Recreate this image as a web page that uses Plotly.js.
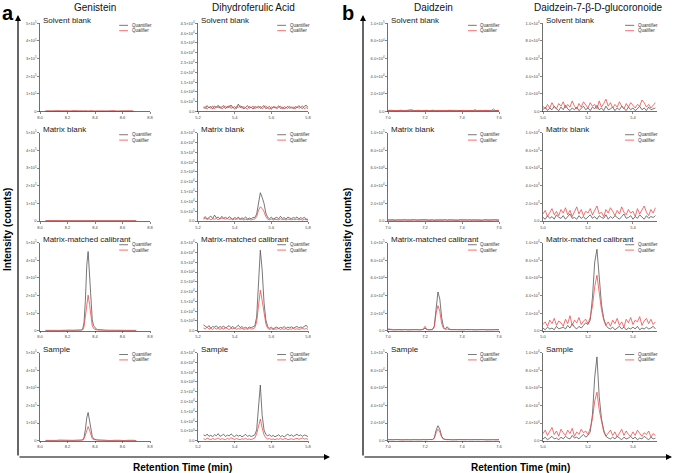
<!DOCTYPE html>
<html>
<head>
<meta charset="utf-8">
<script src="https://cdn.plot.ly/plotly-3.0.1.min.js"></script>
<style>
  body { margin: 0; background: #fff; }
  #myChart { width: 676px; height: 473px; }
</style>
</head>
<body>
<div id="myChart"></div>
<script>
// column titles, row labels, legend names
var compounds = ["Genistein", "Dihydroferulic Acid", "Daidzein", "Daidzein-7-β-D-glucoronoide"];
var sampleTypes = ["Solvent blank", "Matrix blank", "Matrix-matched calibrant", "Sample"];
var seriesNames = ["Quantifier", "Qualifier"];

// ---- Genistein (intensity in 1e5 counts) ----
var genTime = [8.04, 8.06, 8.08, 8.10, 8.12, 8.14, 8.16, 8.18, 8.20, 8.22, 8.24, 8.26, 8.28,
  8.29, 8.30, 8.31, 8.32, 8.33, 8.34, 8.35, 8.36, 8.37, 8.38, 8.39, 8.40, 8.41, 8.42, 8.43, 8.44,
  8.46, 8.48, 8.50, 8.52, 8.54, 8.56, 8.58, 8.60, 8.62, 8.64, 8.66, 8.68, 8.70];
var genSolventQuant = [0.02, 0.01, 0.02, 0.01, 0.02, 0.02, 0.01, 0.02, 0.01, 0.02, 0.01, 0.02, 0.01,
  0.02, 0.01, 0.02, 0.01, 0.02, 0.02, 0.01, 0.02, 0.01, 0.02, 0.01, 0.01, 0.02, 0.01, 0.02,
  0.01, 0.02, 0.01, 0.02, 0.01, 0.02, 0.01, 0.02, 0.01, 0.02, 0.01, 0.02, 0.01];
var genSolventQual = [0.03, 0.02, 0.04, 0.03, 0.05, 0.02, 0.03, 0.04, 0.02, 0.03, 0.05, 0.03, 0.02,
  0.03, 0.04, 0.02, 0.03, 0.05, 0.03, 0.02, 0.04, 0.03, 0.02, 0.04, 0.03, 0.02, 0.03, 0.04,
  0.05, 0.03, 0.02, 0.04, 0.03, 0.05, 0.02, 0.03, 0.04, 0.02, 0.03, 0.04, 0.02];
var genMatrixQuant = [0.01, 0.01, 0.00, 0.01, 0.01, 0.01, 0.00, 0.01, 0.01, 0.01, 0.00, 0.01, 0.01,
  0.01, 0.00, 0.01, 0.01, 0.01, 0.00, 0.01, 0.01, 0.00, 0.01, 0.01, 0.01, 0.00, 0.01, 0.01,
  0.01, 0.00, 0.01, 0.01, 0.00, 0.01, 0.01, 0.01, 0.00, 0.01, 0.01, 0.00, 0.01, 0.01];
var genMatrixQual = [0.01, 0.02, 0.01, 0.01, 0.02, 0.01, 0.01, 0.02, 0.01, 0.01, 0.02, 0.01, 0.01,
  0.02, 0.01, 0.01, 0.02, 0.01, 0.01, 0.02, 0.01, 0.02, 0.01, 0.01, 0.02, 0.01, 0.01, 0.02,
  0.01, 0.01, 0.02, 0.01, 0.02, 0.01, 0.01, 0.02, 0.01, 0.01, 0.02, 0.01, 0.01, 0.01];
var genCalQuant = [0.01, 0.02, 0.01, 0.02, 0.02, 0.01, 0.02, 0.01, 0.02, 0.02, 0.01, 0.02, 0.02,
  0.02, 0.03, 0.08, 0.45, 1.70, 3.70, 4.50, 3.30, 1.65, 0.62, 0.28, 0.15, 0.09, 0.06, 0.05, 0.04,
  0.03, 0.03, 0.02, 0.02, 0.02, 0.01, 0.02, 0.01, 0.02, 0.01, 0.02, 0.01, 0.01];
var genCalQual = [0.02, 0.01, 0.02, 0.03, 0.01, 0.02, 0.02, 0.01, 0.03, 0.02, 0.01, 0.02, 0.02,
  0.02, 0.02, 0.04, 0.22, 0.80, 1.65, 2.02, 1.50, 0.75, 0.28, 0.12, 0.07, 0.04, 0.03, 0.02, 0.02,
  0.02, 0.01, 0.02, 0.02, 0.01, 0.02, 0.01, 0.02, 0.02, 0.01, 0.02, 0.01, 0.02];
var genSampleQuant = [0.01, 0.02, 0.01, 0.02, 0.01, 0.02, 0.02, 0.01, 0.02, 0.01, 0.02, 0.02, 0.01,
  0.02, 0.03, 0.05, 0.18, 0.62, 1.30, 1.60, 1.20, 0.60, 0.24, 0.11, 0.07, 0.05, 0.04, 0.03, 0.03,
  0.02, 0.02, 0.01, 0.02, 0.02, 0.01, 0.02, 0.01, 0.02, 0.02, 0.01, 0.02, 0.01];
var genSampleQual = [0.02, 0.01, 0.02, 0.02, 0.01, 0.03, 0.02, 0.01, 0.02, 0.02, 0.01, 0.02, 0.02,
  0.02, 0.02, 0.03, 0.10, 0.32, 0.66, 0.80, 0.60, 0.30, 0.12, 0.06, 0.04, 0.03, 0.02, 0.02, 0.02,
  0.01, 0.02, 0.02, 0.01, 0.02, 0.01, 0.02, 0.02, 0.01, 0.02, 0.01, 0.02, 0.01];
var genXTicks = [8.0, 8.2, 8.4, 8.6, 8.8];
var genXLabels = ["8.0", "8.2", "8.4", "8.6", "8.8"];
var genYTicks = [0, 1, 2, 3, 4, 5];
var genYLabels = ["0", "1×10<sup>5</sup>", "2×10<sup>5</sup>", "3×10<sup>5</sup>", "4×10<sup>5</sup>", "5×10<sup>5</sup>"];

// ---- Dihydroferulic Acid (intensity in 1e4 counts), 5.23 .. 5.80 min ----
var dhfTime = [5.23, 5.24, 5.25, 5.26, 5.27, 5.28, 5.29, 5.30, 5.31, 5.32,
  5.33, 5.34, 5.35, 5.36, 5.37, 5.38, 5.39, 5.40, 5.41, 5.42,
  5.43, 5.44, 5.45, 5.46, 5.47, 5.48, 5.49, 5.50, 5.51, 5.52,
  5.53, 5.54, 5.55, 5.56, 5.57, 5.58, 5.59, 5.60, 5.61, 5.62,
  5.63, 5.64, 5.65, 5.66, 5.67, 5.68, 5.69, 5.70, 5.71, 5.72,
  5.73, 5.74, 5.75, 5.76, 5.77, 5.78, 5.79, 5.80];
var dhfSolventQuant = [0.22, 0.15, 0.30, 0.18, 0.26, 0.12, 0.28, 0.20, 0.32, 0.16,
  0.24, 0.30, 0.14, 0.26, 0.20, 0.33, 0.18, 0.25, 0.15, 0.38,
  0.20, 0.27, 0.13, 0.24, 0.30, 0.17, 0.22, 0.12, 0.26, 0.19,
  0.28, 0.16, 0.23, 0.30, 0.14, 0.21, 0.26, 0.11, 0.25, 0.18,
  0.20, 0.29, 0.15, 0.23, 0.13, 0.19, 0.27, 0.16, 0.22, 0.14,
  0.25, 0.18, 0.30, 0.21, 0.15, 0.27, 0.32, 0.20];
var dhfSolventQual = [0.18, 0.26, 0.12, 0.24, 0.16, 0.29, 0.14, 0.25, 0.19, 0.27,
  0.13, 0.22, 0.28, 0.17, 0.31, 0.15, 0.24, 0.11, 0.27, 0.20,
  0.30, 0.16, 0.25, 0.18, 0.12, 0.26, 0.20, 0.28, 0.14, 0.23,
  0.17, 0.27, 0.13, 0.21, 0.29, 0.16, 0.12, 0.24, 0.19, 0.26,
  0.14, 0.22, 0.28, 0.12, 0.25, 0.20, 0.15, 0.27, 0.18, 0.24,
  0.12, 0.26, 0.16, 0.22, 0.29, 0.14, 0.20, 0.15];
var dhfMatrixQuant = [0.15, 0.22, 0.10, 0.18, 0.25, 0.12, 0.30, 0.16, 0.20, 0.11,
  0.24, 0.14, 0.19, 0.12, 0.22, 0.15, 0.09, 0.18, 0.13, 0.20,
  0.10, 0.16, 0.12, 0.21, 0.09, 0.15, 0.11, 0.18, 0.18, 0.35,
  0.95, 1.44, 1.20, 0.90, 0.40, 0.18, 0.12, 0.20, 0.10, 0.16,
  0.19, 0.11, 0.24, 0.13, 0.17, 0.10, 0.20, 0.15, 0.12, 0.18,
  0.14, 0.21, 0.11, 0.17, 0.13, 0.19, 0.10, 0.08];
var dhfMatrixQual = [0.10, 0.14, 0.08, 0.12, 0.06, 0.11, 0.09, 0.13, 0.07, 0.10,
  0.15, 0.12, 0.09, 0.13, 0.08, 0.11, 0.06, 0.10, 0.08, 0.12,
  0.07, 0.10, 0.05, 0.09, 0.06, 0.08, 0.05, 0.09, 0.10, 0.22,
  0.55, 0.72, 0.64, 0.48, 0.22, 0.09, 0.06, 0.10, 0.05, 0.09,
  0.09, 0.06, 0.11, 0.07, 0.08, 0.05, 0.10, 0.07, 0.06, 0.09,
  0.07, 0.10, 0.06, 0.08, 0.05, 0.09, 0.06, 0.04];
var dhfCalQuant = [0.30, 0.24, 0.16, 0.26, 0.12, 0.22, 0.18, 0.25, 0.14, 0.21,
  0.17, 0.24, 0.13, 0.20, 0.26, 0.15, 0.22, 0.11, 0.19, 0.28,
  0.16, 0.21, 0.13, 0.18, 0.12, 0.19, 0.15, 0.22, 0.25, 0.70,
  2.40, 4.12, 3.10, 1.45, 0.55, 0.22, 0.12, 0.18, 0.10, 0.16,
  0.19, 0.11, 0.17, 0.14, 0.21, 0.12, 0.18, 0.15, 0.20, 0.13,
  0.17, 0.22, 0.14, 0.19, 0.16, 0.23, 0.28, 0.15];
var dhfCalQual = [0.14, 0.10, 0.18, 0.08, 0.12, 0.06, 0.15, 0.09, 0.11, 0.07,
  0.13, 0.08, 0.16, 0.10, 0.06, 0.12, 0.09, 0.14, 0.07, 0.11,
  0.08, 0.13, 0.06, 0.10, 0.07, 0.12, 0.08, 0.10, 0.15, 0.45,
  1.25, 2.07, 1.55, 0.85, 0.35, 0.12, 0.07, 0.10, 0.06, 0.09,
  0.08, 0.12, 0.06, 0.10, 0.07, 0.11, 0.05, 0.09, 0.08, 0.12,
  0.07, 0.10, 0.06, 0.09, 0.12, 0.08, 0.11, 0.07];
var dhfSampleQuant = [0.30, 0.24, 0.34, 0.22, 0.28, 0.20, 0.31, 0.25, 0.36, 0.22,
  0.27, 0.33, 0.21, 0.29, 0.24, 0.35, 0.26, 0.20, 0.30, 0.23,
  0.28, 0.19, 0.26, 0.32, 0.22, 0.27, 0.21, 0.25, 0.30, 0.55,
  1.80, 2.84, 1.30, 0.55, 0.32, 0.25, 0.30, 0.22, 0.27, 0.20,
  0.25, 0.30, 0.21, 0.26, 0.19, 0.28, 0.34, 0.24, 0.30, 0.22,
  0.27, 0.33, 0.25, 0.30, 0.22, 0.29, 0.26, 0.21];
var dhfSampleQual = [0.10, 0.06, 0.13, 0.08, 0.05, 0.11, 0.07, 0.09, 0.14, 0.06,
  0.10, 0.08, 0.05, 0.12, 0.07, 0.15, 0.09, 0.06, 0.11, 0.08,
  0.05, 0.10, 0.07, 0.12, 0.06, 0.09, 0.05, 0.10, 0.14, 0.35,
  0.80, 1.10, 0.65, 0.30, 0.15, 0.08, 0.11, 0.06, 0.09, 0.05,
  0.10, 0.07, 0.12, 0.06, 0.09, 0.11, 0.05, 0.08, 0.10, 0.06,
  0.09, 0.12, 0.07, 0.10, 0.14, 0.08, 0.11, 0.06];
var dhfXTicks = [5.2, 5.4, 5.6, 5.8];
var dhfXLabels = ["5.2", "5.4", "5.6", "5.8"];
var dhfYTicks = [0, 0.5, 1, 1.5, 2, 2.5, 3, 3.5, 4, 4.5];
var dhfYLabels = ["0.0", "5.0×10<sup>3</sup>", "1.0×10<sup>4</sup>", "1.5×10<sup>4</sup>", "2.0×10<sup>4</sup>",
  "2.5×10<sup>4</sup>", "3.0×10<sup>4</sup>", "3.5×10<sup>4</sup>", "4.0×10<sup>4</sup>", "4.5×10<sup>4</sup>"];

// ---- Daidzein (intensity in 1e5 counts), 7.00 .. 7.60 min ----
var daiTime = [7.00, 7.01, 7.02, 7.03, 7.04, 7.05, 7.06, 7.07, 7.08, 7.09,
  7.10, 7.11, 7.12, 7.13, 7.14, 7.15, 7.16, 7.17, 7.18, 7.19,
  7.20, 7.21, 7.22, 7.23, 7.24, 7.25, 7.26, 7.27, 7.28, 7.29,
  7.30, 7.31, 7.32, 7.33, 7.34, 7.35, 7.36, 7.37, 7.38, 7.39,
  7.40, 7.41, 7.42, 7.43, 7.44, 7.45, 7.46, 7.47, 7.48, 7.49,
  7.50, 7.51, 7.52, 7.53, 7.54, 7.55, 7.56, 7.57, 7.58, 7.59, 7.60];
var daiSolventQuant = [0.010, 0.014, 0.008, 0.012, 0.006, 0.011, 0.009, 0.013, 0.007, 0.010,
  0.012, 0.008, 0.015, 0.009, 0.011, 0.007, 0.013, 0.010, 0.008, 0.012,
  0.009, 0.014, 0.007, 0.011, 0.010, 0.013, 0.008, 0.012, 0.006, 0.010,
  0.013, 0.009, 0.011, 0.007, 0.012, 0.010, 0.014, 0.008, 0.011, 0.009,
  0.012, 0.007, 0.010, 0.013, 0.008, 0.011, 0.009, 0.012, 0.010, 0.008,
  0.013, 0.009, 0.011, 0.007, 0.012, 0.010, 0.008, 0.011, 0.009, 0.012, 0.010];
var daiSolventQual = [0.008, 0.012, 0.015, 0.009, 0.011, 0.007, 0.013, 0.010, 0.014, 0.008,
  0.011, 0.009, 0.013, 0.020, 0.010, 0.012, 0.008, 0.014, 0.009, 0.011,
  0.013, 0.007, 0.012, 0.010, 0.015, 0.008, 0.011, 0.009, 0.013, 0.010,
  0.008, 0.012, 0.010, 0.014, 0.009, 0.011, 0.007, 0.013, 0.010, 0.012,
  0.009, 0.014, 0.008, 0.011, 0.010, 0.013, 0.009, 0.022, 0.010, 0.012,
  0.008, 0.011, 0.013, 0.009, 0.012, 0.010, 0.014, 0.030, 0.011, 0.009, 0.012];
var daiMatrixQuant = [0.012, 0.009, 0.014, 0.010, 0.008, 0.013, 0.011, 0.009, 0.015, 0.010,
  0.012, 0.008, 0.011, 0.014, 0.009, 0.012, 0.010, 0.013, 0.008, 0.011,
  0.010, 0.014, 0.009, 0.012, 0.011, 0.008, 0.013, 0.010, 0.012, 0.009,
  0.011, 0.014, 0.008, 0.012, 0.010, 0.013, 0.009, 0.011, 0.008, 0.012,
  0.010, 0.013, 0.009, 0.011, 0.014, 0.008, 0.012, 0.010, 0.009, 0.013,
  0.011, 0.008, 0.012, 0.010, 0.014, 0.009, 0.011, 0.013, 0.008, 0.010, 0.012];
var daiMatrixQual = [0.010, 0.013, 0.008, 0.016, 0.011, 0.009, 0.014, 0.010, 0.012, 0.018,
  0.009, 0.013, 0.011, 0.008, 0.015, 0.010, 0.012, 0.009, 0.014, 0.011,
  0.016, 0.008, 0.012, 0.010, 0.013, 0.009, 0.015, 0.011, 0.008, 0.012,
  0.010, 0.014, 0.009, 0.013, 0.011, 0.017, 0.008, 0.012, 0.010, 0.014,
  0.009, 0.011, 0.013, 0.008, 0.012, 0.010, 0.015, 0.009, 0.011, 0.013,
  0.010, 0.008, 0.014, 0.011, 0.012, 0.009, 0.013, 0.010, 0.016, 0.011, 0.009];
var daiCalQuant = [0.015, 0.010, 0.012, 0.008, 0.011, 0.013, 0.009, 0.012, 0.010, 0.014,
  0.009, 0.011, 0.013, 0.008, 0.012, 0.010, 0.014, 0.009, 0.011, 0.012,
  0.030, 0.012, 0.010, 0.013, 0.015, 0.050, 0.250, 0.440, 0.360, 0.150,
  0.040, 0.020, 0.045, 0.020, 0.012, 0.015, 0.010, 0.013, 0.011, 0.009,
  0.012, 0.010, 0.014, 0.009, 0.011, 0.013, 0.010, 0.012, 0.008, 0.011,
  0.013, 0.009, 0.012, 0.010, 0.014, 0.011, 0.009, 0.012, 0.010, 0.013, 0.011];
var daiCalQual = [0.020, 0.015, 0.010, 0.012, 0.009, 0.013, 0.011, 0.008, 0.012, 0.010,
  0.013, 0.009, 0.011, 0.014, 0.010, 0.012, 0.008, 0.011, 0.013, 0.015,
  0.050, 0.015, 0.010, 0.012, 0.010, 0.040, 0.200, 0.285, 0.220, 0.080,
  0.025, 0.015, 0.020, 0.012, 0.010, 0.013, 0.009, 0.011, 0.012, 0.010,
  0.009, 0.012, 0.010, 0.013, 0.011, 0.008, 0.012, 0.010, 0.014, 0.009,
  0.011, 0.013, 0.010, 0.012, 0.009, 0.011, 0.014, 0.010, 0.012, 0.009, 0.011];
var daiSampleQuant = [0.011, 0.009, 0.012, 0.010, 0.013, 0.008, 0.011, 0.010, 0.012, 0.009,
  0.013, 0.010, 0.008, 0.012, 0.011, 0.009, 0.013, 0.010, 0.012, 0.009,
  0.012, 0.010, 0.013, 0.011, 0.014, 0.030, 0.120, 0.170, 0.130, 0.050,
  0.020, 0.015, 0.012, 0.010, 0.013, 0.009, 0.011, 0.012, 0.010, 0.008,
  0.011, 0.013, 0.009, 0.012, 0.010, 0.011, 0.008, 0.012, 0.010, 0.013,
  0.009, 0.011, 0.012, 0.010, 0.008, 0.012, 0.010, 0.011, 0.013, 0.009, 0.010];
var daiSampleQual = [0.012, 0.010, 0.014, 0.009, 0.011, 0.013, 0.010, 0.012, 0.008, 0.011,
  0.010, 0.013, 0.011, 0.009, 0.012, 0.014, 0.010, 0.011, 0.009, 0.013,
  0.011, 0.012, 0.010, 0.013, 0.012, 0.025, 0.090, 0.130, 0.100, 0.040,
  0.018, 0.012, 0.010, 0.013, 0.011, 0.009, 0.012, 0.010, 0.014, 0.011,
  0.009, 0.012, 0.010, 0.013, 0.011, 0.009, 0.012, 0.014, 0.010, 0.011,
  0.013, 0.009, 0.011, 0.010, 0.012, 0.014, 0.010, 0.012, 0.009, 0.011, 0.012];
var daiXTicks = [7.0, 7.2, 7.4, 7.6];
var daiXLabels = ["7.0", "7.2", "7.4", "7.6"];
var daiYTicks = [0, 0.2, 0.4, 0.6, 0.8, 1.0];
var daiYLabels = ["0.0", "2.0×10<sup>4</sup>", "4.0×10<sup>4</sup>", "6.0×10<sup>4</sup>", "8.0×10<sup>4</sup>", "1.0×10<sup>5</sup>"];

// ---- Daidzein-7-β-D-glucoronoide (intensity in 1e4 counts), 5.00 .. 5.50 min ----
var d7gTime = [5.00, 5.01, 5.02, 5.03, 5.04, 5.05, 5.06, 5.07, 5.08, 5.09,
  5.10, 5.11, 5.12, 5.13, 5.14, 5.15, 5.16, 5.17, 5.18, 5.19,
  5.20, 5.21, 5.22, 5.23, 5.24, 5.25, 5.26, 5.27, 5.28, 5.29,
  5.30, 5.31, 5.32, 5.33, 5.34, 5.35, 5.36, 5.37, 5.38, 5.39,
  5.40, 5.41, 5.42, 5.43, 5.44, 5.45, 5.46, 5.47, 5.48, 5.49, 5.50];
var d7gSolventQuant = [0.02, 0.05, 0.01, 0.04, 0.02, 0.06, 0.03, 0.01, 0.05, 0.02,
  0.07, 0.03, 0.01, 0.04, 0.02, 0.05, 0.01, 0.03, 0.06, 0.02,
  0.04, 0.01, 0.05, 0.03, 0.07, 0.02, 0.04, 0.01, 0.06, 0.02,
  0.03, 0.05, 0.01, 0.04, 0.02, 0.06, 0.03, 0.01, 0.05, 0.02,
  0.04, 0.01, 0.03, 0.06, 0.02, 0.04, 0.01, 0.05, 0.02, 0.03, 0.04];
var d7gSolventQual = [0.06, 0.03, 0.08, 0.04, 0.10, 0.05, 0.03, 0.09, 0.06, 0.11,
  0.04, 0.08, 0.05, 0.12, 0.06, 0.03, 0.09, 0.05, 0.11, 0.07,
  0.04, 0.10, 0.06, 0.08, 0.03, 0.12, 0.05, 0.09, 0.14, 0.06,
  0.10, 0.04, 0.08, 0.05, 0.11, 0.06, 0.03, 0.09, 0.05, 0.10,
  0.07, 0.04, 0.08, 0.06, 0.13, 0.10, 0.05, 0.08, 0.04, 0.07, 0.10];
var d7gMatrixQuant = [0.04, 0.02, 0.06, 0.03, 0.05, 0.02, 0.07, 0.04, 0.03, 0.06,
  0.02, 0.05, 0.08, 0.03, 0.04, 0.02, 0.06, 0.03, 0.05, 0.02,
  0.04, 0.07, 0.03, 0.05, 0.02, 0.06, 0.04, 0.03, 0.07, 0.02,
  0.05, 0.03, 0.06, 0.04, 0.02, 0.05, 0.08, 0.03, 0.04, 0.06,
  0.02, 0.05, 0.03, 0.07, 0.04, 0.02, 0.06, 0.03, 0.05, 0.04, 0.06];
var d7gMatrixQual = [0.08, 0.12, 0.05, 0.10, 0.14, 0.07, 0.11, 0.06, 0.13, 0.09,
  0.15, 0.07, 0.12, 0.05, 0.10, 0.16, 0.08, 0.13, 0.06, 0.11,
  0.09, 0.14, 0.07, 0.12, 0.17, 0.08, 0.10, 0.05, 0.13, 0.09,
  0.15, 0.11, 0.06, 0.12, 0.08, 0.16, 0.10, 0.07, 0.13, 0.09,
  0.11, 0.05, 0.14, 0.08, 0.12, 0.17, 0.10, 0.06, 0.13, 0.09, 0.15];
var d7gCalQuant = [0.03, 0.01, 0.04, 0.02, 0.03, 0.01, 0.05, 0.02, 0.03, 0.04,
  0.02, 0.06, 0.03, 0.08, 0.04, 0.02, 0.05, 0.03, 0.06, 0.09,
  0.07, 0.12, 0.38, 0.78, 0.925, 0.55, 0.30, 0.14, 0.06, 0.03,
  0.02, 0.04, 0.01, 0.03, 0.05, 0.02, 0.04, 0.01, 0.03, 0.02,
  0.04, 0.02, 0.05, 0.01, 0.03, 0.02, 0.04, 0.02, 0.03, 0.05, 0.02];
var d7gCalQual = [0.07, 0.10, 0.05, 0.12, 0.08, 0.14, 0.06, 0.11, 0.09, 0.05,
  0.13, 0.08, 0.17, 0.06, 0.12, 0.09, 0.15, 0.07, 0.11, 0.13,
  0.08, 0.15, 0.28, 0.50, 0.63, 0.42, 0.24, 0.12, 0.06, 0.10,
  0.05, 0.12, 0.08, 0.14, 0.06, 0.10, 0.04, 0.13, 0.09, 0.15,
  0.07, 0.12, 0.10, 0.16, 0.06, 0.11, 0.14, 0.08, 0.13, 0.07, 0.10];
var d7gSampleQuant = [0.02, 0.04, 0.01, 0.03, 0.05, 0.02, 0.03, 0.01, 0.04, 0.02,
  0.05, 0.03, 0.02, 0.06, 0.03, 0.04, 0.02, 0.05, 0.07, 0.04,
  0.06, 0.10, 0.30, 0.72, 0.95, 0.50, 0.25, 0.12, 0.05, 0.03,
  0.02, 0.04, 0.02, 0.05, 0.03, 0.01, 0.04, 0.02, 0.03, 0.05,
  0.02, 0.04, 0.01, 0.03, 0.02, 0.05, 0.03, 0.01, 0.04, 0.02, 0.03];
var d7gSampleQual = [0.08, 0.12, 0.06, 0.10, 0.15, 0.07, 0.11, 0.05, 0.13, 0.09,
  0.06, 0.12, 0.08, 0.14, 0.05, 0.10, 0.07, 0.13, 0.09, 0.11,
  0.07, 0.14, 0.25, 0.45, 0.55, 0.35, 0.20, 0.10, 0.05, 0.08,
  0.12, 0.06, 0.10, 0.04, 0.09, 0.13, 0.06, 0.11, 0.07, 0.05,
  0.10, 0.06, 0.12, 0.08, 0.05, 0.09, 0.07, 0.11, 0.04, 0.08, 0.06];
var d7gXTicks = [5.0, 5.2, 5.4];
var d7gXLabels = ["5.0", "5.2", "5.4"];
var d7gYTicks = [0, 0.2, 0.4, 0.6, 0.8, 1.0];
var d7gYLabels = ["0.0", "2.0×10<sup>3</sup>", "4.0×10<sup>3</sup>", "6.0×10<sup>3</sup>", "8.0×10<sup>3</sup>", "1.0×10<sup>4</sup>"];

document.addEventListener("DOMContentLoaded", () => {
  var W = 676, H = 473;
  var FONT = "Arial, 'Liberation Sans', sans-serif";
  var quantColor = "#555555";
  var qualColor = "#ef4b4b";

  var columns = [
    { time: genTime, rows: [[genSolventQuant, genSolventQual], [genMatrixQuant, genMatrixQual], [genCalQuant, genCalQual], [genSampleQuant, genSampleQual]],
      xr: [8.0, 8.8], xt: genXTicks, xl: genXLabels, yr: [0, 5], yt: genYTicks, yl: genYLabels },
    { time: dhfTime, rows: [[dhfSolventQuant, dhfSolventQual], [dhfMatrixQuant, dhfMatrixQual], [dhfCalQuant, dhfCalQual], [dhfSampleQuant, dhfSampleQual]],
      xr: [5.2, 5.8], xt: dhfXTicks, xl: dhfXLabels, yr: [0, 4.5], yt: dhfYTicks, yl: dhfYLabels },
    { time: daiTime, rows: [[daiSolventQuant, daiSolventQual], [daiMatrixQuant, daiMatrixQual], [daiCalQuant, daiCalQual], [daiSampleQuant, daiSampleQual]],
      xr: [7.0, 7.6], xt: daiXTicks, xl: daiXLabels, yr: [0, 1], yt: daiYTicks, yl: daiYLabels },
    { time: d7gTime, rows: [[d7gSolventQuant, d7gSolventQual], [d7gMatrixQuant, d7gMatrixQual], [d7gCalQuant, d7gCalQual], [d7gSampleQuant, d7gSampleQual]],
      xr: [5.0, 5.507], xt: d7gXTicks, xl: d7gXLabels, yr: [0, 1], yt: d7gYTicks, yl: d7gYLabels },
  ];

  // pixel boxes of the small plots
  var colPx = [[40, 150], [198, 308], [388, 499], [543, 657]];
  var rowPx = [[23.3, 111.5], [132.7, 221], [242.7, 330.7], [352.5, 440.7]];
  var titleX = [95, 253, 434, 598];

  var traces = [];
  var annotations = [];
  var shapes = [];
  var layout = {
    width: W, height: H,
    margin: { l: 0, r: 0, t: 0, b: 0 },
    paper_bgcolor: "#fff", plot_bgcolor: "rgba(0,0,0,0)",
    showlegend: false,
    font: { family: FONT, color: "#222" },
  };

  columns.forEach((col, c) => {
    col.rows.forEach((pair, r) => {
      var k = c * 4 + r + 1;
      var xa = "x" + (k === 1 ? "" : k);
      var ya = "y" + (k === 1 ? "" : k);
      pair.forEach((vals, s) => {
        traces.push({
          type: "scatter", mode: "lines",
          x: col.time, y: vals,
          xaxis: xa, yaxis: ya,
          name: seriesNames[s],
          line: { color: s === 0 ? quantColor : qualColor, width: 0.8 },
          hoverinfo: "skip",
        });
      });
      var axisStyle = {
        showline: true, linecolor: "#333", linewidth: 0.7,
        ticks: "outside", ticklen: 2, tickwidth: 0.6, tickcolor: "#333",
        showgrid: false, zeroline: false, fixedrange: true,
        tickfont: { family: FONT, size: 4, color: "#444" },
      };
      layout["xaxis" + (k === 1 ? "" : k)] = Object.assign({}, axisStyle, {
        domain: [colPx[c][0] / W, colPx[c][1] / W],
        range: col.xr, anchor: ya,
        tickmode: "array", tickvals: col.xt, ticktext: col.xl,
      });
      layout["yaxis" + (k === 1 ? "" : k)] = Object.assign({}, axisStyle, {
        domain: [1 - rowPx[r][1] / H, 1 - rowPx[r][0] / H],
        range: col.yr, anchor: xa,
        tickmode: "array", tickvals: col.yt, ticktext: col.yl,
      });
      var xd = xa + " domain", yd = ya + " domain";
      // panel label
      annotations.push({
        xref: xd, yref: yd, x: 0.01, y: 1.035, xanchor: "left", yanchor: "middle",
        text: sampleTypes[r], showarrow: false,
        font: { family: FONT, size: 8, color: "#222" },
      });
      // small legend
      [0.977, 0.916].forEach((ly, s) => {
        shapes.push({
          type: "line", xref: xd, yref: yd, x0: 0.72, x1: 0.80, y0: ly, y1: ly,
          line: { color: s === 0 ? quantColor : qualColor, width: 0.8 },
        });
        annotations.push({
          xref: xd, yref: yd, x: 0.815, y: ly, xanchor: "left", yanchor: "middle",
          text: seriesNames[s], showarrow: false,
          font: { family: FONT, size: 4.5, color: "#333" },
        });
      });
    });
    annotations.push({
      xref: "paper", yref: "paper", x: titleX[c] / W, y: 1 - 8 / H,
      xanchor: "center", yanchor: "middle", text: compounds[c], showarrow: false,
      font: { family: FONT, size: 10, color: "#111" },
    });
  });

  // panel letters, big axes titles and arrows
  [["a", 0, 18, 330, 182], ["b", 340, 363, 672, 520]].forEach((p) => {
    annotations.push({
      xref: "paper", yref: "paper", x: p[1] / W, y: 1, xanchor: "left", yanchor: "top",
      text: "<b>" + p[0] + "</b>", showarrow: false, font: { family: FONT, size: 20, color: "#000" },
    });
    annotations.push({
      xref: "paper", yref: "paper", x: (p[1] + 8) / W, y: 1 - 230 / H, xanchor: "center", yanchor: "middle",
      text: "<b>Intensity (counts)</b>", textangle: -90, showarrow: false,
      font: { family: FONT, size: 10, color: "#000" },
    });
    annotations.push({
      xref: "paper", yref: "paper", x: p[4] / W, y: 1 - 467 / H, xanchor: "center", yanchor: "middle",
      text: "<b>Retention Time (min)</b>", showarrow: false,
      font: { family: FONT, size: 10, color: "#000" },
    });
    annotations.push({
      xref: "paper", yref: "paper", x: p[2] / W, y: 1 - 15 / H, text: "",
      showarrow: true, axref: "pixel", ayref: "pixel", ax: 0, ay: 442,
      arrowhead: 2, arrowsize: 1, arrowwidth: 1.2, arrowcolor: "#000",
    });
    annotations.push({
      xref: "paper", yref: "paper", x: p[3] / W, y: 1 - 457 / H, text: "",
      showarrow: true, axref: "pixel", ayref: "pixel", ax: -(p[3] - p[2]), ay: 0,
      arrowhead: 2, arrowsize: 1, arrowwidth: 1.2, arrowcolor: "#000",
    });
  });

  layout.annotations = annotations;
  layout.shapes = shapes;

  Plotly.newPlot("myChart", traces, layout, { displayModeBar: false, staticPlot: true });
});
</script>
</body>
</html>
